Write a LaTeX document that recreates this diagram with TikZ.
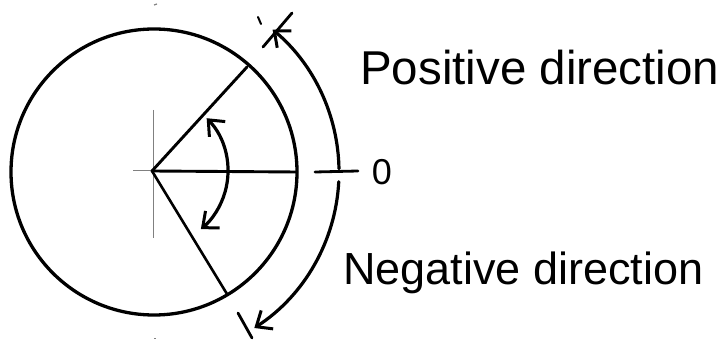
\documentclass[tikz,border=0pt]{standalone}
\usepackage{fontspec}
\setmainfont{Liberation Sans}
\usetikzlibrary{arrows.meta}
\begin{document}
\begin{tikzpicture}[x=1pt,y=1pt,
  ink/.style={line width=3.2pt, line cap=round, line join=round},
  thin axis/.style={line width=1pt, gray},
  tip/.tip={Straight Barb[length=13pt,width=22pt,line width=3pt]},
  barb/.style={ink, -tip},
  dbarb/.style={ink, tip-tip},
  lbl/.style={font=\fontsize{46}{46}\selectfont, inner sep=0pt}]
\useasboundingbox (0,0) rectangle (728,340);
% key points
\coordinate (C) at (154,168);
\coordinate (V) at (152,169);
\coordinate (O) at (153,168);
% circle
\draw[ink, line width=3.3pt] (C) circle (143);
% thin axes
\draw[thin axis] (153,230) -- (153,102);
\draw[thin axis] (133,169) -- (V);
\draw[line width=1.2pt, gray] (154,335) -- (157,336);
\draw[line width=1pt, gray] (154,2) -- (156,2);
% radii
\coordinate (U) at (247,273);
\coordinate (L) at (227,46);
\coordinate (R) at (297,168);
\draw[ink, line width=2.9pt] (V) -- (U);
\draw[ink, line width=2.6pt] (V) -- (L);
\draw[ink, line width=2.9pt] (V) -- (R);
% inner angle arc
\draw[dbarb] ([shift={(44:76)}]V) arc (44:-50:76);
% outer arcs
\draw[barb] ([shift={(1:186)}]O) arc (1:50:186) coordinate (Ptip);
\draw[barb] ([shift={(-3:186)}]O) arc (-3:-57:186) coordinate (Ntip);
% extra strokes at the tips
\draw[ink, line width=2.8pt] (263,293) -- (292,327);
\draw[ink, line width=2pt] (258,323) -- (261,316);
\draw[ink, line width=2.8pt] (238,27) -- (252,2);
% zero mark
\coordinate (Z1) at (315,168);
\coordinate (Z2) at (358,169);
\draw[ink, line width=2.8pt] (Z1) -- (Z2);
\node[lbl, font=\fontsize{36}{36}\selectfont] (zero) at (382,168) {0};
% labels
\node[lbl, font=\fontsize{47.5}{47.5}\selectfont, anchor=base west] (pos) at (360,255) {Positive direction};
\node[lbl, font=\fontsize{45}{45}\selectfont, anchor=base west] (neg) at (343,55) {Negative direction};
\end{tikzpicture}
\end{document}
